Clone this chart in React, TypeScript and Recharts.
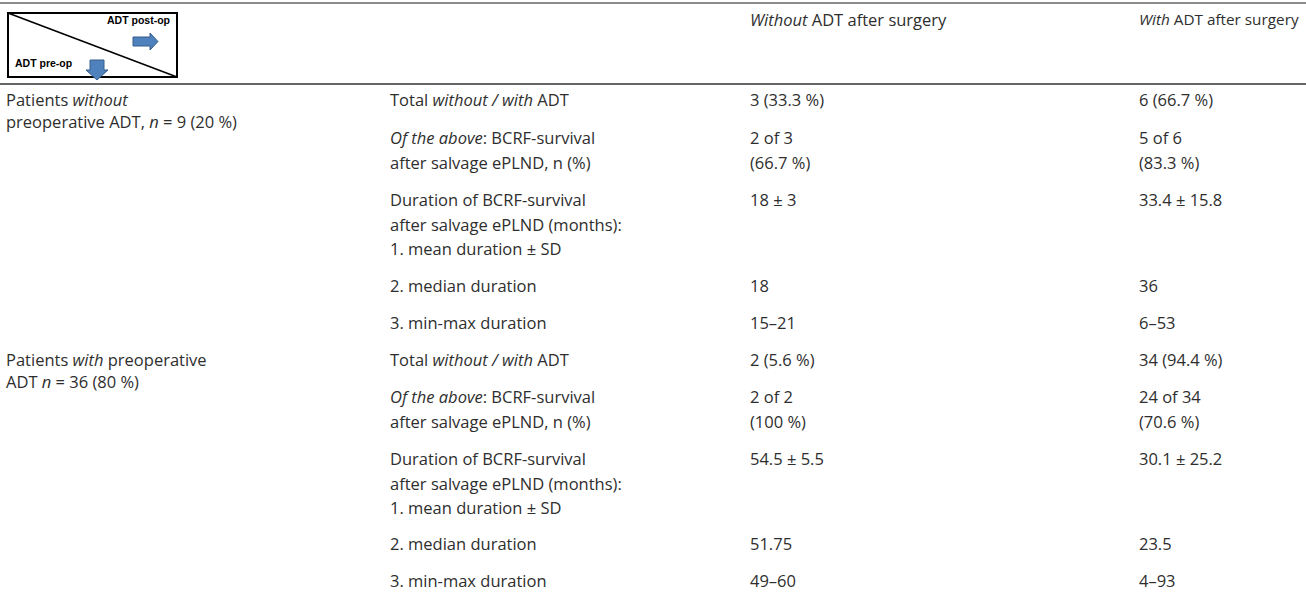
import React from 'react';
import { ScatterChart, Scatter, XAxis, YAxis, ReferenceLine } from 'recharts';

// ── Table content ────────────────────────────────────────────────────────────
// "_" toggles italic inside a line

const columnHeaders = ['_Without_ ADT after surgery', '_With_ ADT after surgery'];

const groupLabels = [
  ['Patients _without_', 'preoperative ADT, _n_ = 9 (20 %)'],
  ['Patients _with_ preoperative', 'ADT _n_ = 36 (80 %)'],
];

const measureLabels = [
  ['Total _without / with_ ADT'],
  ['_Of the above_: BCRF-survival', 'after salvage ePLND, n (%)'],
  ['Duration of BCRF-survival', 'after salvage ePLND (months):', '1. mean duration ± SD'],
  ['2. median duration'],
  ['3. min-max duration'],
];

const withoutPostOp = [
  ['3 (33.3 %)'], ['2 of 3', '(66.7 %)'], ['18 ± 3'], ['18'], ['15–21'],
  ['2 (5.6 %)'], ['2 of 2', '(100 %)'], ['54.5 ± 5.5'], ['51.75'], ['49–60'],
];

const withPostOp = [
  ['6 (66.7 %)'], ['5 of 6', '(83.3 %)'], ['33.4 ± 15.8'], ['36'], ['6–53'],
  ['34 (94.4 %)'], ['24 of 34', '(70.6 %)'], ['30.1 ± 25.2'], ['23.5'], ['4–93'],
];

// ── Layout ───────────────────────────────────────────────────────────────────

const W = 1306;
const H = 596;
const COL_X = [6, 390, 750, 1139];
const ROW_Y = [99, 137, 199, 285, 322, 359, 396, 458, 543, 580];
const HEADER_Y = 19;
const LINE_H = 24.5;
const GROUP_LINE_H = 22;
const FS = 16.5;
const FONT = '"Open Sans", "Noto Sans", sans-serif';
const INK = '#2e2e2e';

type Cell = { x: number; y: number; lines: string[]; lh: number; fs: number };

const cells: Cell[] = [];
columnHeaders.forEach((h, i) =>
  cells.push({ x: COL_X[i + 2], y: HEADER_Y, lines: [h], lh: LINE_H, fs: i === 1 ? 15.3 : FS }));
groupLabels.forEach((g, i) => cells.push({ x: COL_X[0], y: ROW_Y[i * 5], lines: g, lh: GROUP_LINE_H, fs: FS }));
ROW_Y.forEach((y, i) => {
  cells.push({ x: COL_X[1], y, lines: measureLabels[i % 5], lh: LINE_H, fs: FS });
  cells.push({ x: COL_X[2], y, lines: withoutPostOp[i], lh: LINE_H, fs: FS });
  cells.push({ x: COL_X[3], y, lines: withPostOp[i], lh: LINE_H, fs: FS });
});

const renderLine = (line: string) =>
  line.split('_').map((part, k) => (
    <tspan key={k} fontStyle={k % 2 === 1 ? 'italic' : 'normal'}>{part}</tspan>
  ));

const TextCell = (props: any) => {
  const { cx, cy, payload } = props;
  return (
    <g>
      {payload.lines.map((line: string, j: number) => (
        <text key={j} x={cx} y={cy + j * payload.lh} dominantBaseline="central"
          fontFamily={FONT} fontSize={payload.fs} fill={INK}>
          {renderLine(line)}
        </text>
      ))}
    </g>
  );
};

// corner box with the diagonal split
const CornerBox = (props: any) => {
  const { cx, cy } = props;
  const w = 169;
  const h = 64;
  const blue = '#4f81bd';
  const edge = '#385d8a';
  return (
    <g>
      <rect x={cx} y={cy} width={w} height={h} fill="#fff" stroke="#000" strokeWidth={2} />
      <line x1={cx} y1={cy} x2={cx + w} y2={cy + h} stroke="#000" strokeWidth={1.6} />
      <text x={cx + 99} y={cy + 7} dominantBaseline="central" fontFamily="Arial, 'Liberation Sans', sans-serif"
        fontWeight="bold" fontSize={10.5} fill="#000">ADT post-op</text>
      <text x={cx + 7} y={cy + 50} dominantBaseline="central" fontFamily="Arial, 'Liberation Sans', sans-serif"
        fontWeight="bold" fontSize={10.5} fill="#000">ADT pre-op</text>
      <path
        d={`M${cx + 125},${cy + 24} h17 v-4 l8,8.5 l-8,8.5 v-4 h-17 z`}
        fill={blue} stroke={edge} strokeWidth={1}
      />
      <path
        d={`M${cx + 82},${cy + 47} h14 v10 h4 l-11,10 l-11,-10 h4 z`}
        fill={blue} stroke={edge} strokeWidth={1}
      />
    </g>
  );
};

export default function App() {
  return (
    <div style={{ width: W, height: H, background: '#fff' }}>
      <style>{'body{margin:0}'}</style>
      <ScatterChart width={W} height={H} margin={{ top: 0, right: 0, bottom: 0, left: 0 }}>
        <XAxis type="number" dataKey="x" domain={[0, W]} hide />
        <YAxis type="number" dataKey="y" domain={[0, H]} reversed hide />
        <ReferenceLine y={3} stroke="#1a1a1a" strokeWidth={1.2} />
        <ReferenceLine y={84} stroke="#333" strokeWidth={1.6} />
        <Scatter data={[{ x: 8, y: 13 }]} shape={<CornerBox />} isAnimationActive={false} />
        <Scatter data={cells} shape={<TextCell />} isAnimationActive={false} />
      </ScatterChart>
    </div>
  );
}
